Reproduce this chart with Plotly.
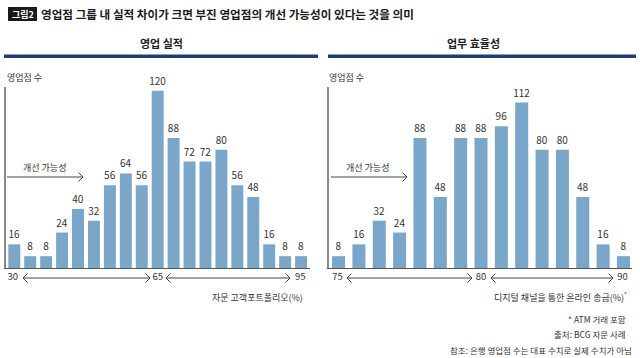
import plotly.graph_objects as go

W, H = 640, 358

# ---------------- data ----------------
badge_text = "그림2"
title_text = "영업점 그룹 내 실적 차이가 크면 부진 영업점의 개선 가능성이 있다는 것을 의미"
panel_titles = ["영업 실적", "업무 효율성"]
y_label = "영업점 수"
arrow_label = "개선 가능성"

sales_values = [16, 8, 8, 24, 40, 32, 56, 64, 56, 120, 88, 72, 72, 80, 56, 48, 16, 8, 8]
sales_ticks = ["30", "65", "95"]
sales_xlabel = "자문 고객포트폴리오(%)"

eff_values = [8, 16, 32, 24, 88, 48, 88, 88, 96, 112, 80, 80, 48, 16, 8]
eff_ticks = ["75", "80", "90"]
eff_xlabel = "디지털 채널을 통한 온라인 송금(%)"

footnote_atm = "ATM 거래 포함"
footnote_src = "출처: BCG 자문 사례"
footnote_ref = "참조: 은행 영업점 수는 대표 수치로 실제 수치가 아님"

# ---------------- style ----------------
FONT = "Liberation Sans Narrow, Noto Sans CJK KR, sans-serif"
BAR = "#7aa6c9"
NAVY = "#1e3e75"
PINK = "#e5007e"
TXT = "#333333"
AX = "#555555"


def px(x):
    return x / W


def py(y):
    return 1 - y / H


fig = go.Figure()

fig.add_trace(go.Bar(
    x=list(range(len(sales_values))), y=sales_values, xaxis="x", yaxis="y",
    marker=dict(color=BAR, line=dict(width=0)), width=0.75,
    text=[str(v) for v in sales_values], textposition="outside",
    textfont=dict(size=10, color=TXT, family=FONT), constraintext="none",
    cliponaxis=False, hoverinfo="skip", showlegend=False))

fig.add_trace(go.Bar(
    x=list(range(len(eff_values))), y=eff_values, xaxis="x2", yaxis="y2",
    marker=dict(color=BAR, line=dict(width=0)), width=0.64,
    text=[str(v) for v in eff_values], textposition="outside",
    textfont=dict(size=10, color=TXT, family=FONT), constraintext="none",
    cliponaxis=False, hoverinfo="skip", showlegend=False))

ydom = [py(268), py(87)]
yrange = [0, 122.5]

common_x = dict(showgrid=False, zeroline=False, showline=True, linecolor=AX,
                linewidth=1, ticks="", tickfont=dict(size=9.5, color=TXT, family=FONT),
                fixedrange=True)
common_y = dict(showgrid=False, zeroline=False, showline=True, linecolor="#8a8a8a",
                linewidth=1.5, showticklabels=False, ticks="", range=yrange,
                domain=ydom, fixedrange=True)

fig.update_layout(
    width=W, height=H, margin=dict(l=0, r=0, t=0, b=0),
    paper_bgcolor="white", plot_bgcolor="white",
    font=dict(family=FONT, color=TXT),
    bargap=0.25,
    xaxis=dict(domain=[px(6), px(310)], range=[-0.52, 18.56], anchor="y",
               tickvals=[-0.1, 9, len(sales_values) - 1.05], ticktext=sales_ticks, **common_x),
    yaxis=dict(anchor="x", **common_y),
    xaxis2=dict(domain=[px(329), px(632)], range=[-0.47, 14.42], anchor="y2",
                tickvals=[-0.05, 7, len(eff_values) - 1.05], ticktext=eff_ticks, **common_x),
    yaxis2=dict(anchor="x2", **common_y),
)

shapes = []
ann = []


def line(x0, y0, x1, y1, color="#444444", width=1):
    shapes.append(dict(type="line", xref="paper", yref="paper",
                       x0=px(x0), y0=py(y0), x1=px(x1), y1=py(y1),
                       line=dict(color=color, width=width)))


def chevron(x, y, d, s=4.5, color="#444444"):
    p = "M {},{} L {},{} L {},{}".format(px(x - d * s), py(y - s), px(x), py(y),
                                          px(x - d * s), py(y + s))
    shapes.append(dict(type="path", xref="paper", yref="paper", path=p,
                       line=dict(color=color, width=1)))


def text(x, y, t, size=9, anchor="left", color=TXT, family=FONT, bold=False):
    if bold:
        t = "<b>" + t + "</b>"
    ann.append(dict(xref="paper", yref="paper", x=px(x), y=py(y), text=t,
                    showarrow=False, xanchor=anchor, yanchor="middle",
                    font=dict(size=size, color=color, family=family)))


# title badge
shapes.append(dict(type="rect", xref="paper", yref="paper", x0=px(8), x1=px(37),
                   y0=py(21), y1=py(7), fillcolor="#1a1a1a", line=dict(width=0)))
text(22.5, 14, badge_text, size=9, anchor="center", color="white", bold=True)
text(39, 14, title_text, size=11.6, color="#1a1a1a", bold=True)

# panel titles and navy rules
text(161, 43, panel_titles[0], size=11, anchor="center", color="#222222", bold=True)
text(473, 43, panel_titles[1], size=11, anchor="center", color="#222222", bold=True)
for x0, x1 in [(4, 318), (328, 636)]:
    shapes.append(dict(type="rect", xref="paper", yref="paper", x0=px(x0), x1=px(x1),
                       y0=py(58), y1=py(54.5), fillcolor=NAVY, line=dict(width=0)))

# y labels
text(5, 77, y_label, size=9)
text(327, 77, y_label, size=9)

# improvement arrows
for x0, x1, tx in [(7, 83, 21), (331, 407, 344)]:
    text(tx, 168, arrow_label, size=9)
    line(x0, 177, x1, 177)
    chevron(x1, 177, 1)

# axis range arrows
for a, b in [(23, 150), (166, 290), (347, 472), (491, 613)]:
    line(a, 278, b, 278)
    chevron(a, 278, -1)
    chevron(b, 278, 1)

# x labels
text(305, 297, sales_xlabel, size=9, anchor="right")
text(629, 297, eff_xlabel + "<sup><span style='color:%s'>*</span></sup>" % PINK,
     size=9, anchor="right")

# footnotes
text(628, 319, "<span style='color:%s'>*</span> " % PINK + footnote_atm, size=8.5, anchor="right")
text(628, 334, footnote_src, size=8.5, anchor="right")
text(634, 350, footnote_ref, size=8.5, anchor="right")

fig.update_layout(shapes=shapes, annotations=ann)
fig.write_html("out.html", config={"displayModeBar": False},
               post_script="document.body.style.margin='0';document.body.style.padding='0';")
